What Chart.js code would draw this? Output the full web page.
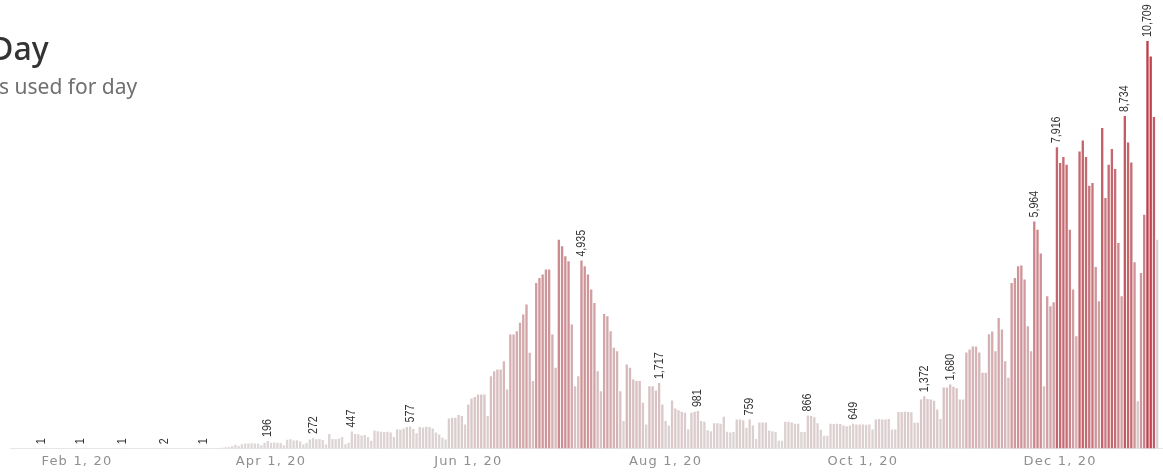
<!DOCTYPE html>
<html>
<head>
<meta charset="utf-8">
<script src="https://cdn.jsdelivr.net/npm/chart.js@4.4.0/dist/chart.umd.min.js"></script>
<style>
  html, body { margin: 0; padding: 0; background: #fff; overflow: hidden; }
  #wrap { position: relative; width: 1163px; height: 474px; }
  #title { position: absolute; left: -10px; top: 32px; font: 500 32px/1 "Noto Sans", sans-serif; color: #333; white-space: nowrap; }
  #subtitle { position: absolute; left: -1px; top: 76px; font: 400 21px/1 "Noto Sans", sans-serif; color: #6f6f6f; white-space: nowrap; }
</style>
</head>
<body>
<div id="wrap">
  <canvas id="myChart"></canvas>
  <div id="title">Day</div>
  <div id="subtitle">s used for day</div>
</div>
<script>
// daily values, first value is Jan 21, 2020
const firstDay = '2020-01-21';
const casesJan = [1, 0, 0, 0, 0, 0, 0, 0, 0, 0, 0];
const casesFeb = [0, 1, 0, 0, 0, 0, 0, 0, 0, 0, 0, 0, 0, 0, 1, 0, 0, 0, 0, 0, 0, 0, 0, 0, 0, 0, 0, 2, 0];
const casesMar = [0, 0, 0, 0, 0, 0, 0, 0, 0, 0, 1, 0, 0, 0, 4, 8, 18, 30, 35, 60, 95, 60, 110, 130, 128, 135, 130, 120, 80, 150, 196];
const casesApr = [150, 155, 150, 140, 80, 230, 240, 210, 215, 180, 105, 140, 236, 272, 240, 245, 220, 100, 380, 250, 240, 260, 300, 110, 150, 447, 380, 370, 340, 350];
const casesMay = [300, 200, 470, 450, 440, 430, 440, 420, 300, 500, 490, 520, 560, 577, 510, 400, 560, 550, 570, 560, 520, 420, 368, 280, 236, 788, 805, 805, 875, 849, 630];
const casesJun = [1155, 1313, 1348, 1418, 1418, 1418, 849, 1899, 2030, 2074, 2074, 2293, 1549, 2993, 2993, 3080, 3299, 3518, 3780, 2511, 1768, 4349, 4480, 4568, 4699, 4699, 2993, 2117, 5486, 5311];
const casesJul = [5049, 4918, 3255, 1636, 1899, 4935, 4786, 4568, 4174, 3824, 2030, 1505, 3535, 3474, 3080, 2642, 2555, 1505, 717, 2205, 2117, 1811, 1768, 1768, 1199, 630, 1636, 1636, 1523, 1717, 1155];
const casesAug = [717, 600, 1260, 1050, 1000, 960, 936, 500, 940, 960, 981, 720, 700, 480, 450, 660, 660, 650, 835, 440, 420, 430, 760, 760, 740, 540, 759, 600, 250, 680, 680];
const casesSep = [680, 470, 450, 430, 200, 200, 700, 700, 680, 650, 650, 430, 430, 866, 850, 820, 660, 490, 330, 330, 650, 640, 650, 640, 600, 580, 600, 649, 630, 630];
const casesOct = [630, 620, 630, 499, 761, 770, 760, 761, 770, 499, 499, 954, 954, 960, 954, 950, 674, 674, 1286, 1372, 1300, 1286, 1250, 1024, 770, 1600, 1600, 1680, 1620, 1580, 1286];
const casesNov = [1286, 2520, 2600, 2677, 2677, 2520, 1986, 1986, 3000, 3071, 2555, 3430, 3124, 2293, 1855, 4349, 4480, 4786, 4804, 4436, 3211, 2555, 5964, 5749, 5119, 1636, 3999, 3736, 3841, 7916];
const casesDec = [7499, 7656, 7455, 5749, 4174, 2949, 7805, 8094, 7656, 6904, 6974, 4769, 3867, 8418, 6580, 7455, 7866, 7341, 5399, 3999, 8734, 8041, 7516, 4891, 1242, 4611, 6143, 10709, 10299, 8706, 5486];

// bars that carry a value label
const labeledDays = ['2020-01-21', '2020-02-02', '2020-02-15', '2020-02-28', '2020-03-11', '2020-03-31',
  '2020-04-14', '2020-04-26', '2020-05-14', '2020-07-06', '2020-07-30', '2020-08-11', '2020-08-27',
  '2020-09-14', '2020-09-28', '2020-10-20', '2020-10-28', '2020-11-23', '2020-11-30', '2020-12-21', '2020-12-28'];

// x axis tick dates
const tickDays = ['2020-02-01', '2020-04-01', '2020-06-01', '2020-08-01', '2020-10-01', '2020-12-01'];
const monthNames = ['Jan', 'Feb', 'Mar', 'Apr', 'May', 'Jun', 'Jul', 'Aug', 'Sep', 'Oct', 'Nov', 'Dec'];

const dayNum = s => (Date.UTC(+s.slice(0, 4), +s.slice(5, 7) - 1, +s.slice(8, 10)) - Date.UTC(2020, 0, 1)) / 86400000;

const cases = [].concat(casesJan, casesFeb, casesMar, casesApr, casesMay, casesJun,
  casesJul, casesAug, casesSep, casesOct, casesNov, casesDec);
const start = dayNum(firstDay);
const points = cases.map((v, i) => ({ x: start + i, y: v }));
const labeledIdx = labeledDays.map(s => dayNum(s) - start);

function formatTick(v) {
  const d = new Date(Date.UTC(2020, 0, 1) + v * 86400000);
  return monthNames[d.getUTCMonth()] + ' ' + d.getUTCDate() + ', ' + String(d.getUTCFullYear()).slice(2);
}

// light gray -> red, by value
function barColor(ctx) {
  if (ctx.dataIndex === cases.length - 1) return 'rgb(214, 212, 212)';
  const v = cases[ctx.dataIndex] || 0;
  const t = Math.min(1, v / 10709);
  const lo = [222, 217, 217], hi = [188, 62, 72];
  const c = lo.map((l, k) => Math.round(l + (hi[k] - l) * t));
  return 'rgb(' + c.join(',') + ')';
}

// wider spacing for the axis text
const spacing = {
  id: 'spacing',
  beforeDraw(chart) { chart.ctx.letterSpacing = '1.2px'; },
  afterDraw(chart) { chart.ctx.letterSpacing = '0px'; }
};

const barLabels = {
  id: 'barLabels',
  afterDatasetsDraw(chart) {
    const ctx = chart.ctx;
    const meta = chart.getDatasetMeta(0);
    ctx.save();
    ctx.letterSpacing = '0px';
    ctx.fillStyle = '#333';
    ctx.font = '13px "Liberation Sans", Arial, sans-serif';
    ctx.textAlign = 'left';
    ctx.textBaseline = 'middle';
    labeledIdx.forEach(i => {
      const el = meta.data[i];
      if (!el) return;
      ctx.save();
      ctx.translate(el.x, el.y - 4);
      ctx.rotate(-Math.PI / 2);
      ctx.scale(0.82, 1); // narrow face, like the original labels
      ctx.fillText(cases[i].toLocaleString('en-US'), 0, 0);
      ctx.restore();
    });
    ctx.restore();
  }
};

new Chart(document.getElementById('myChart'), {
  type: 'bar',
  data: {
    datasets: [{
      data: points,
      backgroundColor: barColor,
      borderWidth: 0,
      barPercentage: 1,
      categoryPercentage: 0.72
    }]
  },
  options: {
    responsive: true,
    maintainAspectRatio: false,
    animation: false,
    layout: { padding: { left: 10, right: 0, top: 0, bottom: 0 } },
    plugins: { legend: { display: false }, tooltip: { enabled: false } },
    scales: {
      x: {
        type: 'linear',
        offset: false,
        min: 10.3,
        max: 366.8,
        grid: { display: false, drawTicks: false, offset: false },
        border: { display: true, color: '#e6e6e6' },
        afterBuildTicks: axis => { axis.ticks = tickDays.map(s => ({ value: dayNum(s) })); },
        ticks: {
          padding: 5,
          maxRotation: 0,
          autoSkip: false,
          color: '#8f8f8f',
          font: { family: '"DejaVu Sans", sans-serif', size: 13 },
          callback: v => formatTick(v)
        }
      },
      y: { display: false, min: 0, max: 11784 }
    }
  },
  plugins: [spacing, barLabels]
});
</script>
</body>
</html>
